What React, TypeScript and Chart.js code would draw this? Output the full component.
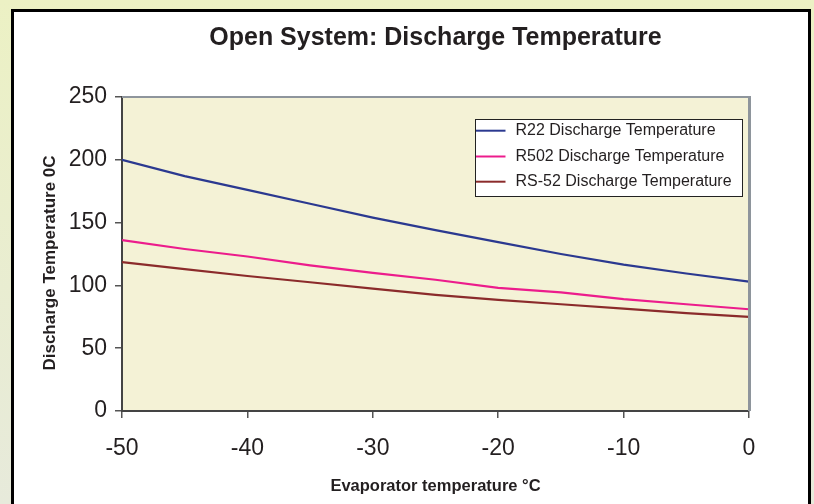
import React, { useEffect, useRef } from "react";
import { Chart, registerables } from "chart.js";

Chart.register(...registerables);

// ---- data ----
const evapTemps = [-50, -45, -40, -35, -30, -25, -20, -15, -10, -5, 0];
const r22Values = [200, 187, 176, 165, 154, 144, 134.5, 125, 116.5, 109.5, 103];
const r502Values = [136, 129, 123, 116, 110, 104.5, 98, 94.5, 89, 85, 81];
const rs52Values = [118.5, 113, 107.5, 102.5, 97.5, 92.5, 88.5, 85, 81.5, 78, 75];
const seriesLabels = [
  "R22 Discharge Temperature",
  "R502 Discharge Temperature",
  "RS-52 Discharge Temperature",
];
const seriesColors = ["#2B3990", "#EC1C8C", "#8B2B2B"];
const xRange = [-50, 0];
const yRange = [0, 250];
const chartTitle = "Open System: Discharge Temperature";
const xTitle = "Evaporator temperature °C";
const yTitle = "Discharge Temperature 0C";

const FONT = "'Liberation Sans', Arial, Helvetica, sans-serif";
const TEXT = "#231F20";

const backgroundPlugin = {
  id: "bgPanel",
  beforeDraw(chart: any) {
    const { ctx, width, height, chartArea } = chart;
    ctx.save();
    const g = ctx.createLinearGradient(0, 0, 0, height);
    g.addColorStop(0, "#ECF1C4");
    g.addColorStop(1, "#E7EADB");
    ctx.fillStyle = g;
    ctx.fillRect(0, 0, width, height);
    // white panel with black frame
    ctx.fillStyle = "#FFFFFF";
    ctx.fillRect(12.5, 10.5, 797, height + 20);
    ctx.strokeStyle = "#000000";
    ctx.lineWidth = 3;
    ctx.strokeRect(12.5, 10.5, 797, height + 20);
    // plot area fill
    ctx.fillStyle = "#F4F2D6";
    ctx.fillRect(chartArea.left, chartArea.top, chartArea.right - chartArea.left, chartArea.bottom - chartArea.top);
    // chart title centred over the plot area
    ctx.fillStyle = TEXT;
    ctx.font = `bold 25px ${FONT}`;
    ctx.textAlign = "center";
    ctx.textBaseline = "middle";
    ctx.fillText(chartTitle, (chartArea.left + chartArea.right) / 2, 38);
    // y axis title
    ctx.save();
    ctx.translate(50, 263);
    ctx.rotate(-Math.PI / 2);
    ctx.font = `bold 17px ${FONT}`;
    ctx.fillText(yTitle, 0, 0);
    ctx.restore();
    ctx.restore();
  },
};

const framePlugin = {
  id: "frameLegend",
  afterDatasetsDraw(chart: any) {
    const { ctx, chartArea } = chart;
    ctx.save();
    ctx.strokeStyle = "#8E959C";
    ctx.lineWidth = 2;
    ctx.beginPath();
    ctx.moveTo(chartArea.left, chartArea.top);
    ctx.lineTo(chartArea.right + 1.5, chartArea.top);
    ctx.stroke();
    ctx.lineWidth = 3;
    ctx.beginPath();
    ctx.moveTo(chartArea.right + 0.5, chartArea.top - 1);
    ctx.lineTo(chartArea.right + 0.5, chartArea.bottom);
    ctx.stroke();

    // legend box
    const bx = 475.5, by = 119.5, bw = 267, bh = 77;
    ctx.fillStyle = "#FFFFFF";
    ctx.fillRect(bx, by, bw, bh);
    ctx.strokeStyle = "#222222";
    ctx.lineWidth = 1;
    ctx.strokeRect(bx, by, bw, bh);
    const rows = [130.7, 156.5, 181.7];
    chart.data.datasets.forEach((ds: any, i: number) => {
      const y = rows[i];
      ctx.strokeStyle = ds.borderColor;
      ctx.lineWidth = 2;
      ctx.beginPath();
      ctx.moveTo(bx + 0.5, y);
      ctx.lineTo(bx + 30, y);
      ctx.stroke();
      ctx.fillStyle = TEXT;
      ctx.font = `16px ${FONT}`;
      ctx.textBaseline = "middle";
      ctx.textAlign = "left";
      ctx.fillText(ds.label, bx + 40, y);
    });
    ctx.restore();
  },
};

export default function App() {
  const ref = useRef<HTMLCanvasElement | null>(null);

  useEffect(() => {
    if (!ref.current) return;
    const seriesData = [r22Values, r502Values, rs52Values];
    const chart = new Chart(ref.current, {
      type: "line",
      data: {
        datasets: seriesData.map((vals, i) => ({
          label: seriesLabels[i],
          data: evapTemps.map((t, j) => ({ x: t, y: vals[j] })),
          borderColor: seriesColors[i],
          backgroundColor: seriesColors[i],
          borderWidth: 2.2,
          pointRadius: 0,
          tension: 0,
          fill: false,
        })),
      },
      options: {
        animation: false,
        responsive: false,
        devicePixelRatio: 1,
        layout: { padding: { left: 0, right: 65, top: 97, bottom: 0 } },
        plugins: {
          legend: { display: false },
          tooltip: { enabled: false },
          title: { display: false },
        },
        scales: {
          x: {
            type: "linear",
            min: xRange[0],
            max: xRange[1],
            afterFit: (s: any) => {
              s.height = 93;
            },
            ticks: {
              stepSize: 10,
              color: TEXT,
              font: { family: FONT, size: 23 },
              padding: 17,
            },
            grid: {
              drawOnChartArea: false,
              drawTicks: true,
              tickLength: 7,
              color: "#555555",
              lineWidth: 1.5,
            },
            border: { display: true, color: "#444444", width: 2 },
            title: {
              display: true,
              text: xTitle,
              color: TEXT,
              font: { family: FONT, size: 16.5, weight: "bold" },
              padding: { top: 0, bottom: 8 },
            },
          },
          y: {
            type: "linear",
            min: yRange[0],
            max: yRange[1],
            afterFit: (s: any) => {
              s.width = 122;
            },
            ticks: {
              stepSize: 50,
              color: TEXT,
              font: { family: FONT, size: 23 },
              padding: 8,
            },
            grid: {
              drawOnChartArea: false,
              drawTicks: true,
              tickLength: 7,
              color: "#555555",
              lineWidth: 1.5,
            },
            border: { display: true, color: "#444444", width: 2 },
            title: { display: false },
          },
        },
      },
      plugins: [backgroundPlugin, framePlugin],
    });
    return () => chart.destroy();
  }, []);

  return (
    <div style={{ position: "fixed", left: 0, top: 0, width: 814, height: 504 }}>
      <canvas ref={ref} width={814} height={504} style={{ display: "block" }} />
    </div>
  );
}
